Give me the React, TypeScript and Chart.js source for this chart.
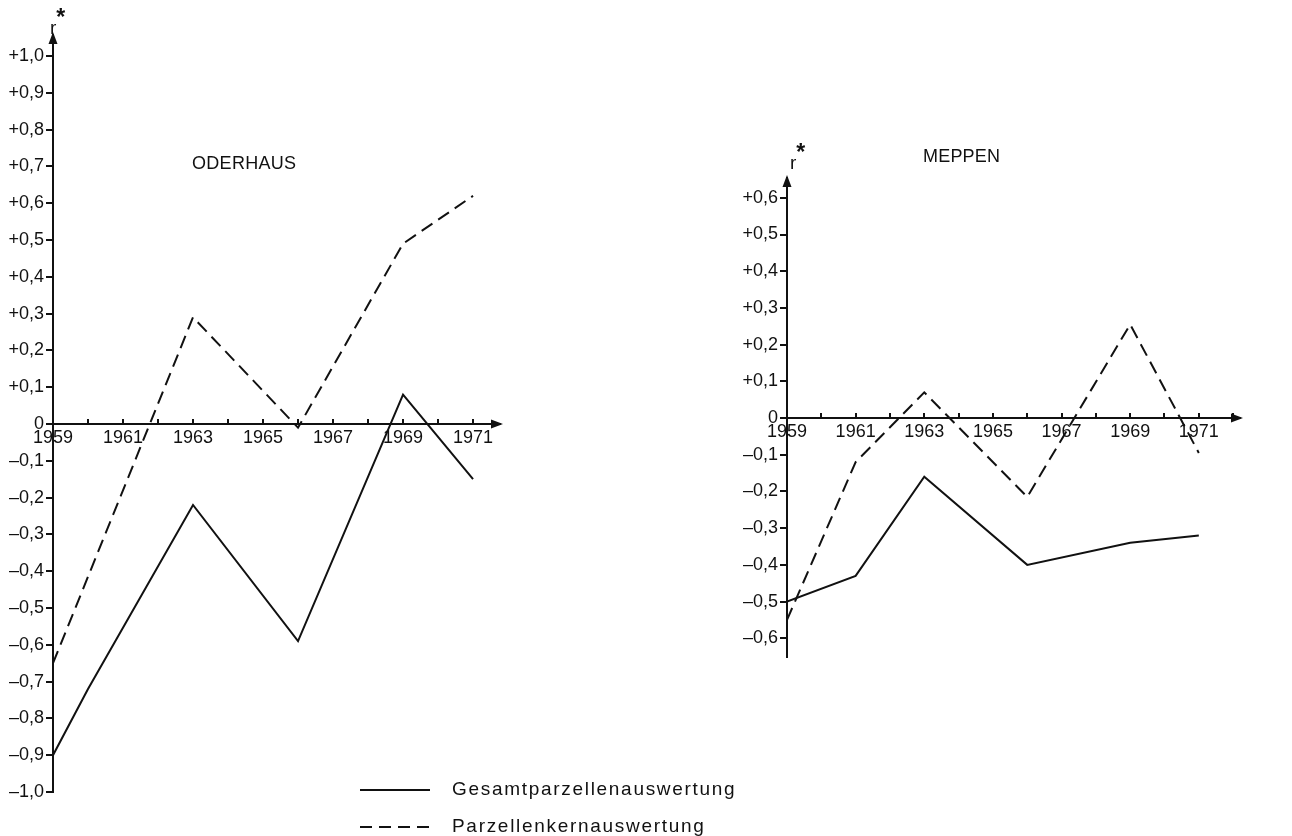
import React, { useEffect, useRef } from "react";
import { Chart, registerables } from "chart.js";

Chart.register(...registerables);

// ---- data ----
const SERIES_NAMES = ["Gesamtparzellenauswertung", "Parzellenkernauswertung"];
const X_LABEL_YEARS = [1959, 1961, 1963, 1965, 1967, 1969, 1971];

const ODERHAUS_GESAMT_YEARS = [1959, 1960, 1963, 1966, 1969, 1971];
const ODERHAUS_GESAMT = [-0.9, -0.72, -0.22, -0.59, 0.08, -0.15];
const ODERHAUS_KERN_YEARS = [1959, 1963, 1966, 1969, 1971];
const ODERHAUS_KERN = [-0.65, 0.29, -0.01, 0.49, 0.62];

const MEPPEN_YEARS = [1959, 1961, 1963, 1966, 1969, 1971];
const MEPPEN_GESAMT = [-0.5, -0.43, -0.16, -0.4, -0.34, -0.32];
const MEPPEN_KERN = [-0.55, -0.12, 0.07, -0.215, 0.255, -0.095];

const INK = "#111111";
const FONT = "'Liberation Sans Narrow', 'Liberation Sans', Arial, sans-serif";

Chart.defaults.font.family = FONT;
Chart.defaults.color = INK;

const fmtY = (v: number | string) => {
  const n = Number(v);
  if (Math.abs(n) < 1e-9) return "0";
  const s = Math.abs(n).toFixed(1).replace(".", ",");
  return (n > 0 ? "+" : "–") + s;
};

const arrowPlugin = {
  id: "axisArrows",
  afterDraw(chart: any) {
    const { ctx, chartArea, scales } = chart;
    const x0 = chartArea.left;
    const yTop = chartArea.top;
    const yZero = scales.y.getPixelForValue(0);
    const xRight = chartArea.right;
    ctx.save();
    ctx.fillStyle = INK;
    ctx.beginPath();
    ctx.moveTo(x0, yTop - 3);
    ctx.lineTo(x0 - 4.5, yTop + 9);
    ctx.lineTo(x0 + 4.5, yTop + 9);
    ctx.closePath();
    ctx.fill();
    ctx.beginPath();
    ctx.moveTo(xRight + 3, yZero);
    ctx.lineTo(xRight - 9, yZero - 4.5);
    ctx.lineTo(xRight - 9, yZero + 4.5);
    ctx.closePath();
    ctx.fill();
    ctx.restore();
  },
};

type PanelProps = {
  left: number;
  width: number;
  height: number;
  gesamtYears: number[];
  gesamt: number[];
  kernYears: number[];
  kern: number[];
  yMin: number;
  yMax: number;
  xMax: number;
  padding: { top: number; bottom: number; left: number; right: number };
};

function Panel(p: PanelProps) {
  const ref = useRef<HTMLCanvasElement>(null);
  useEffect(() => {
    const chart = new Chart(ref.current as HTMLCanvasElement, {
      type: "line",
      data: {
        datasets: [
          {
            label: SERIES_NAMES[0],
            data: p.gesamtYears.map((x, i) => ({ x, y: p.gesamt[i] })),
            borderColor: INK,
            borderWidth: 2,
            pointRadius: 0,
            fill: false,
            tension: 0,
          },
          {
            label: SERIES_NAMES[1],
            data: p.kernYears.map((x, i) => ({ x, y: p.kern[i] })),
            borderColor: INK,
            borderWidth: 2,
            borderDash: [13, 7],
            pointRadius: 0,
            fill: false,
            tension: 0,
          },
        ],
      },
      options: {
        animation: false,
        responsive: false,
        layout: { padding: p.padding },
        plugins: {
          legend: { display: false },
          title: { display: false },
          tooltip: { enabled: false },
        },
        scales: {
          x: {
            type: "linear",
            min: 1959,
            max: p.xMax,
            position: { y: 0 } as any,
            ticks: {
              stepSize: 1,
              autoSkip: false,
              maxRotation: 0,
              includeBounds: false,
              padding: 9,
              color: INK,
              font: { size: 18 },
              callback: (v: any) => (X_LABEL_YEARS.includes(Number(v)) ? String(v) : ""),
            },
            grid: {
              display: true,
              drawOnChartArea: false,
              drawTicks: true,
              tickLength: -6,
              color: INK,
              lineWidth: 2,
            },
            border: { display: true, color: INK, width: 2 },
          },
          y: {
            type: "linear",
            min: p.yMin,
            max: p.yMax,
            ticks: {
              stepSize: 0.1,
              includeBounds: false,
              autoSkip: false,
              padding: 2,
              color: INK,
              font: { size: 18 },
              callback: fmtY,
            },
            grid: {
              display: true,
              drawOnChartArea: false,
              drawTicks: true,
              tickLength: 7,
              color: INK,
              lineWidth: 2,
            },
            border: { display: true, color: INK, width: 2 },
            afterFit: (s: any) => {
              s.width = 53;
            },
          },
        },
      } as any,
      plugins: [arrowPlugin],
    });
    return () => chart.destroy();
  }, []);
  return (
    <canvas
      ref={ref}
      width={p.width}
      height={p.height}
      style={{ position: "absolute", left: p.left, top: 0, width: p.width, height: p.height }}
    />
  );
}

const textBase: React.CSSProperties = {
  position: "absolute",
  fontFamily: FONT,
  color: INK,
  whiteSpace: "nowrap",
  lineHeight: 1,
};

function RStar({ left, top }: { left: number; top: number }) {
  return (
    <div style={{ ...textBase, left, top, fontSize: 19 }}>
      r<span style={{ position: "relative", top: -9, fontSize: 23, fontWeight: "bold" }}>*</span>
    </div>
  );
}

export default function App() {
  return (
    <div
      style={{
        position: "absolute",
        left: 0,
        top: 0,
        width: 1292,
        height: 836,
        background: "#ffffff",
        overflow: "hidden",
      }}
    >
      <Panel
        left={0}
        width={560}
        height={836}
        gesamtYears={ODERHAUS_GESAMT_YEARS}
        gesamt={ODERHAUS_GESAMT}
        kernYears={ODERHAUS_KERN_YEARS}
        kern={ODERHAUS_KERN}
        yMin={-1.0}
        yMax={1.057}
        xMax={1971.77}
        padding={{ top: 35, bottom: 44, left: 0, right: 60 }}
      />
      <Panel
        left={734}
        width={558}
        height={836}
        gesamtYears={MEPPEN_YEARS}
        gesamt={MEPPEN_GESAMT}
        kernYears={MEPPEN_YEARS}
        kern={MEPPEN_KERN}
        yMin={-0.651}
        yMax={0.654}
        xMax={1972.2}
        padding={{ top: 178, bottom: 179, left: 0, right: 52 }}
      />
      <div style={{ ...textBase, left: 192, top: 154, fontSize: 18, letterSpacing: 0.3 }}>ODERHAUS</div>
      <div style={{ ...textBase, left: 923, top: 147, fontSize: 18, letterSpacing: 0.2 }}>MEPPEN</div>
      <RStar left={50} top={15} />
      <RStar left={790} top={150} />

      <svg width={80} height={10} style={{ position: "absolute", left: 355, top: 785 }}>
        <line x1={5} y1={5} x2={75} y2={5} stroke={INK} strokeWidth={2} />
      </svg>
      <svg width={80} height={10} style={{ position: "absolute", left: 355, top: 822 }}>
        <line x1={5} y1={5} x2={75} y2={5} stroke={INK} strokeWidth={2} strokeDasharray="12 7" />
      </svg>
      <div style={{ ...textBase, left: 452, top: 779, fontSize: 19, letterSpacing: 1.7 }}>{SERIES_NAMES[0]}</div>
      <div style={{ ...textBase, left: 452, top: 816, fontSize: 19, letterSpacing: 1.7 }}>{SERIES_NAMES[1]}</div>
    </div>
  );
}
